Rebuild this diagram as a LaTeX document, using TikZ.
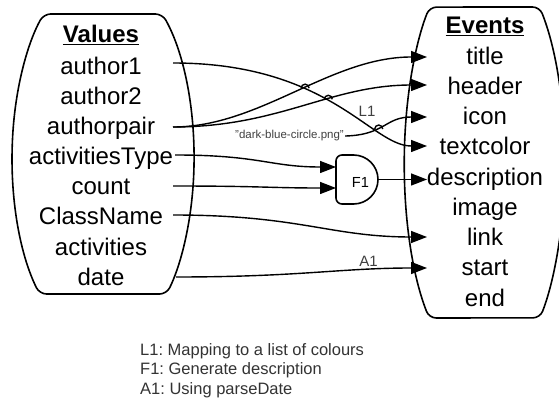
\documentclass[tikz,border=0pt]{standalone}
\usepackage{fontspec}
\setmainfont{Liberation Sans}
\usetikzlibrary{arrows.meta,intersections}
\begin{document}
\frenchspacing
\begin{tikzpicture}[x=1pt,y=-1pt,
  shapeline/.style={line width=1.6pt, rounded corners=7pt},
  lbl/.style={font=\fontsize{24}{28}\selectfont, anchor=base, inner sep=0pt},
  ttl/.style={font=\bfseries\fontsize{24}{28}\selectfont, anchor=base, inner sep=0pt},
  conn/.style={line width=1.4pt, -{Triangle[length=16pt,width=12pt]}},
  wire/.style={line width=1.4pt},
  note/.style={text=black!75, inner sep=0pt, anchor=base},
  legend/.style={text=black!80, inner sep=0pt, anchor=base west, font=\fontsize{16.5}{19}\selectfont},
]
\useasboundingbox (0,0) rectangle (559,403);
\clip (0,0) rectangle (559,403);

% Values container: ellipse cut by a flat top and bottom
\draw[shapeline] (103,14) -- (162.4,14)
  arc[start angle=-49.3, end angle=45.7, x radius=91, y radius=190]
  -- (39.5,294)
  arc[start angle=134.3, end angle=229.3, x radius=91, y radius=190] -- cycle;

% Events container
\draw[shapeline] (484.5,7) -- (539.6,7)
  arc[start angle=-46.5, end angle=46.1, x radius=81, y radius=215]
  -- (429.1,318)
  arc[start angle=133.9, end angle=226.5, x radius=81, y radius=215] -- cycle;

% Values entries
\node[ttl] (vtitle) at (101,43) {\underline{Values}};
\node[lbl] (author1) at (101,75) {author1};
\node[lbl] (author2) at (101,105) {author2};
\node[lbl] (authorpair) at (101,135) {authorpair};
\node[lbl] (actType) at (101,165) {activitiesType};
\node[lbl] (count) at (101,195) {count};
\node[lbl] (className) at (101,225) {ClassName};
\node[lbl] (activities) at (101,255) {activities};
\node[lbl] (date) at (101,285) {date};

% Events entries
\node[ttl] (etitle) at (485,34) {\underline{Events}};
\node[lbl] (title) at (485,65) {title};
\node[lbl] (header) at (485,95) {header};
\node[lbl] (icon) at (485,125) {icon};
\node[lbl] (textcolor) at (485,155) {textcolor};
\node[lbl] (description) at (485,186) {description};
\node[lbl] (image) at (485,216) {image};
\node[lbl] (link) at (485,246) {link};
\node[lbl] (start) at (485,276) {start};
\node[lbl] (end) at (485,306) {end};

% connector ends
\coordinate (s-author1) at (173,63);
\coordinate (s-authorpair) at (173,127);
\coordinate (s-actType) at (175,155);
\coordinate (s-count) at (173,186);
\coordinate (s-className) at (173,215);
\coordinate (s-date) at (176,277);
\coordinate (t-title) at (427,57);
\coordinate (t-header) at (427,85);
\coordinate (t-icon) at (427,117);
\coordinate (t-textcolor) at (427,146);
\coordinate (t-description) at (427,179.5);
\coordinate (t-link) at (427,237);
\coordinate (t-start) at (427,268);

% F1 gate: flat back with rounded corners, round front
\draw[line width=1.6pt, rounded corners=6pt] (354,155) -- (336,155) -- (336,204) -- (354,204);
\draw[line width=1.6pt] (353.5,204) arc[start angle=90, end angle=-90, radius=24.5];
\node[font=\fontsize{14.6}{16}\selectfont, anchor=base, inner sep=0pt] (F1) at (360.5,188) {F1};
\coordinate (g-in1) at (336,167);
\coordinate (g-in2) at (336,188);
\coordinate (g-out) at (378,179.5);

% constant value
\node[note, font=\fontsize{11.5}{13}\selectfont, inner sep=1pt] (png) at (289.5,139) {\symbol{34}dark-blue-circle.png\symbol{34}};

% connectors
\draw[conn, name path=p1] (s-author1) .. controls (330,63) and (371,146) .. (t-textcolor);
\draw[conn, name path=p2] (s-authorpair) .. controls (260,127) and (330,57) .. (t-title);
\draw[conn, name path=p3] (s-authorpair) .. controls (280,127) and (330,85) .. (t-header);
\draw[conn, name path=p4] (png.east) .. controls (385,135) and (385,117) .. (t-icon);
\draw[conn] (s-actType) .. controls (260,155) and (270,167) .. (g-in1);
\draw[conn] (s-count) .. controls (260,186) and (270,188) .. (g-in2);
\draw[conn] (g-out) -- (t-description);
\draw[conn] (s-className) .. controls (300,215) and (330,237) .. (t-link);
\draw[conn] (s-date) .. controls (300,277) and (340,268) .. (t-start);

% line jumps where the lines cross
\path[name intersections={of=p1 and p2, by=j1}];
\path[name intersections={of=p1 and p3, by=j2}];
\path[name intersections={of=p1 and p4, by=j3}];
\foreach \j in {j1,j2,j3}
  \draw[wire] ([xshift=-4pt]\j) arc[start angle=180, end angle=0, radius=4pt];

% mapping labels
\node[note, font=\fontsize{15}{17}\selectfont] (L1) at (367,117) {L1};
\node[note, font=\fontsize{15}{17}\selectfont] (A1) at (368.5,266) {A1};

% legend
\node[legend] (leg1) at (140,355) {L1: Mapping to a list of colours};
\node[legend] (leg2) at (140,374.5) {F1: Generate description};
\node[legend] (leg3) at (140,394) {A1: Using parseDate};
\end{tikzpicture}
\end{document}
